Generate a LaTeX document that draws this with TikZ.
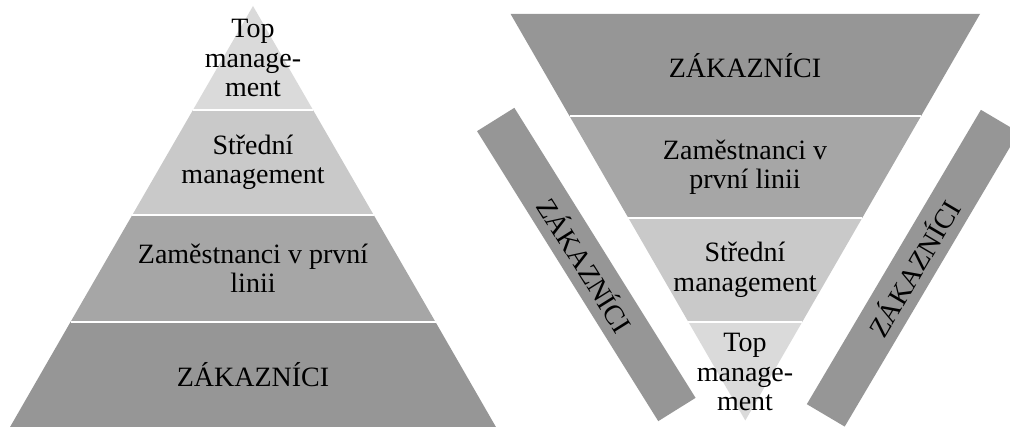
\documentclass[tikz,border=0pt]{standalone}
\usepackage{fontspec}
\setmainfont{Liberation Serif}
\begin{document}
\begin{tikzpicture}[x=1pt,y=-1pt,
  band/.style={draw=white,line width=2.5pt,line join=miter},
  label/.style={align=center,inner sep=0pt,font=\fontsize{28}{29.5}\selectfont},
  sidebar/.style={rectangle,fill=gD,inner sep=0pt,minimum width=342pt,minimum height=44pt,
    font=\fontsize{28}{29.5}\selectfont}]
\definecolor{gA}{HTML}{DADADA}
\definecolor{gB}{HTML}{C9C9C9}
\definecolor{gC}{HTML}{A6A6A6}
\definecolor{gD}{HTML}{969696}
\useasboundingbox (0,0) rectangle (1010,427);
\clip (0,0) rectangle (1010,427);

% pyramid (left)
\fill[fill=gA] (253,6) -- (313.05,110) -- (192.95,110) -- cycle;
\fill[fill=gB] (192.95,110) -- (313.05,110) -- (373.7,215) -- (132.3,215) -- cycle;
\fill[fill=gC] (132.3,215) -- (373.7,215) -- (435.5,322) -- (70.5,322) -- cycle;
\fill[fill=gD] (70.5,322) -- (435.5,322) -- (497.1,429) -- (8.9,429) -- cycle;
\path[band] (192.95,110) -- (313.05,110)
  (132.3,215) -- (373.7,215) (70.5,322) -- (435.5,322);

\node[label] (pTop) at (253,58) {Top\\manage-\\ment};
\node[label] (pMid) at (253,162.5) {Střední\\management};
\node[label] (pFront) at (253,268.5) {Zaměstnanci v první\\linii};
\node[label] (pCust) at (253,375) {ZÁKAZNÍCI};

% inverted pyramid (right)
\fill[fill=gD] (510.6,14) -- (980.0,14) -- (921.1,116) -- (569.5,116) -- cycle;
\fill[fill=gC] (569.5,116) -- (921.1,116) -- (862.2,218) -- (628.4,218) -- cycle;
\fill[fill=gB] (628.4,218) -- (862.2,218) -- (802.2,322) -- (688.4,322) -- cycle;
\fill[fill=gA] (688.4,322) -- (802.2,322) -- (745.3,420.5) -- cycle;
\path[band] (569.5,116) -- (921.1,116)
  (628.4,218) -- (862.2,218) (688.4,322) -- (802.2,322);

\node[label] (iCust) at (745,66) {ZÁKAZNÍCI};
\node[label] (iFront) at (745,167) {Zaměstnanci v\\první linii};
\node[label] (iMid) at (745,270) {Střední\\management};
\node[label] (iTop) at (745,372) {Top\\manage-\\ment};

% customer bars on both sides
\node[sidebar,rotate=-58] (barL) at (586.3,264.5) {ZÁKAZNÍCI};
\node[sidebar,rotate=59.4] (barR) at (912.8,268.2) {ZÁKAZNÍCI};
\end{tikzpicture}
\end{document}
